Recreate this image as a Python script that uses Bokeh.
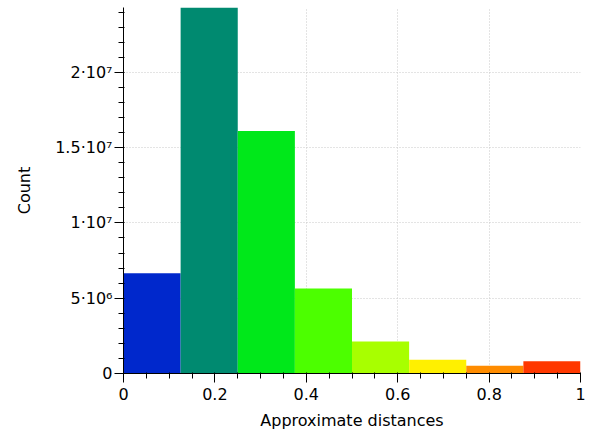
from bokeh.plotting import figure
from bokeh.models import FixedTicker, Range1d, ColumnDataSource
from bokeh.embed import file_html
from bokeh.resources import INLINE

# Data
bin_left = [0.0, 0.125, 0.25, 0.375, 0.5, 0.625, 0.75, 0.875]
bin_right = [0.125, 0.25, 0.375, 0.5, 0.625, 0.75, 0.875, 1.0]
counts = [6.65e6, 2.43e7, 1.61e7, 5.65e6, 2.13e6, 0.92e6, 0.52e6, 0.82e6]
bar_colors = ["#0028CC", "#008A70", "#00E81A", "#4CFF00", "#A8FF00",
              "#FFF000", "#FF8C00", "#FF3800"]

x_ticks = [0.0, 0.2, 0.4, 0.6, 0.8, 1.0]
x_tick_labels = ["0", "0.2", "0.4", "0.6", "0.8", "1"]
y_ticks = [0, 5e6, 1e7, 1.5e7, 2e7]
y_tick_labels = ["0", "5\u00b710\u2076", "1\u00b710\u2077", "1.5\u00b710\u2077", "2\u00b710\u2077"]
x_minor = [i * 0.05 for i in range(21)]
y_minor = [i * 1e6 for i in range(25)]

x_label = "Approximate distances"
y_label = "Count"

FONT = "DejaVu Sans"

src = ColumnDataSource(dict(left=bin_left, right=bin_right, top=counts, color=bar_colors))

p = figure(width=590, height=433, output_backend="svg", toolbar_location=None,
           x_range=Range1d(0, 1), y_range=Range1d(0, max(counts)),
           min_border_left=123, min_border_right=10, min_border_top=7,
           min_border_bottom=60)
p.outline_line_color = None
p.background_fill_color = "white"
p.border_fill_color = "white"

p.quad(left="left", right="right", bottom=0, top="top", fill_color="color",
       line_color=None, source=src)

p.xaxis.ticker = FixedTicker(ticks=x_ticks, minor_ticks=x_minor)
p.yaxis.ticker = FixedTicker(ticks=y_ticks, minor_ticks=y_minor)
p.xaxis.major_label_overrides = {t: l for t, l in zip(x_ticks, x_tick_labels)}
p.yaxis.major_label_overrides = {t: l for t, l in zip(y_ticks, y_tick_labels)}

for ax in (p.xaxis[0], p.yaxis[0]):
    ax.axis_line_color = "black"
    ax.major_tick_line_color = "black"
    ax.minor_tick_line_color = "black"
    ax.major_tick_in = 0
    ax.major_tick_out = 9
    ax.minor_tick_in = 1
    ax.minor_tick_out = 5
    ax.major_label_text_font = FONT
    ax.major_label_text_font_size = "16px"
    ax.major_label_text_color = "black"
    ax.axis_label_text_font = FONT
    ax.axis_label_text_font_size = "16px"
    ax.axis_label_text_font_style = "normal"
    ax.axis_label_text_color = "black"

p.xaxis.axis_label = x_label
p.yaxis.axis_label = y_label
p.xaxis.major_label_standoff = 5
p.xaxis.axis_label_standoff = 8
p.yaxis.major_label_standoff = 2
p.yaxis.axis_label_standoff = 18

p.xgrid.ticker = FixedTicker(ticks=x_ticks)
p.ygrid.ticker = FixedTicker(ticks=y_ticks)
for g in (p.xgrid[0], p.ygrid[0]):
    g.grid_line_color = "#c8c8c8"
    g.grid_line_dash = "1 2"
    g.grid_line_width = 1

open("out.html", "w").write(file_html(p, INLINE))
